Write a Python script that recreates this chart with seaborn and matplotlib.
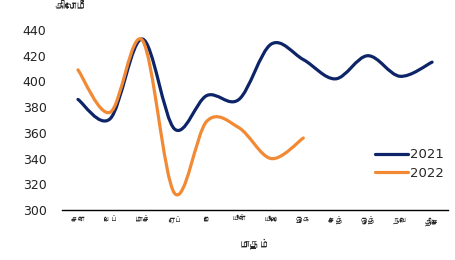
import matplotlib
matplotlib.use("Agg")
import numpy as np
import pandas as pd
import seaborn as sns
import matplotlib.pyplot as plt
from matplotlib import font_manager as fm
from matplotlib.path import Path
from matplotlib.patches import PathPatch
from matplotlib.lines import Line2D
from matplotlib.ft2font import FT2Font

months = ["சன", "பெப்", "மாச்", "ஏப்", "மே", "யூன்", "யூலை", "ஓக", "செத்", "ஒத்", "நவெ", "திசெ"]
values_2021 = [386, 371, 433, 363, 389, 386, 429, 417, 402, 420, 404, 415]
values_2022 = [409, 376, 432, 313, 369, 364, 340, 356]
yticks = [300, 320, 340, 360, 380, 400, 420, 440]
y_title = "கிலோமீ"
x_title = "மாதம்"

def find_tamil():
    found = []
    for f in fm.fontManager.ttflist:
        try:
            font = FT2Font(f.fname)
            if 0x0B95 in font.get_charmap():
                found.append(f.name)
        except Exception:
            pass
    return found

tamil = find_tamil()

sns.set_theme(style="white")
fams = tamil[:1] + ["DejaVu Sans"]
plt.rcParams["font.family"] = fams

df = pd.concat([
    pd.DataFrame({"month": np.arange(len(values_2021)), "value": values_2021, "year": "2021"}),
    pd.DataFrame({"month": np.arange(len(values_2022)), "value": values_2022, "year": "2022"}),
])
palette = {"2021": "#0D2568", "2022": "#F28A35"}

fig = plt.figure(figsize=(4.55, 2.6), dpi=100)
ax = fig.add_axes([0.136, 0.1923, 0.849, 0.6923])
sns.lineplot(data=df, x="month", y="value", hue="year", palette=palette, linewidth=2.3, ax=ax, legend=False)

def smooth_path(x, y):
    pts = np.column_stack([x, y]).astype(float)
    n = len(pts)
    verts = [pts[0]]
    codes = [Path.MOVETO]
    for i in range(n - 1):
        p0 = pts[i - 1] if i > 0 else pts[i]
        p1 = pts[i]
        p2 = pts[i + 1]
        p3 = pts[i + 2] if i + 2 < n else pts[i + 1]
        c1 = p1 + (p2 - p0) / 6.0
        c2 = p2 - (p3 - p1) / 6.0
        verts += [c1, c2, p2]
        codes += [Path.CURVE4] * 3
    return Path(verts, codes)

for line in list(ax.lines):
    xd, yd = line.get_xdata(), line.get_ydata()
    patch = PathPatch(smooth_path(xd, yd), facecolor="none", edgecolor=line.get_color(),
                      linewidth=line.get_linewidth(), capstyle="round", joinstyle="round")
    ax.add_patch(patch)
    line.set_visible(False)

ax.set_xlim(-0.5, 11.5)
ax.set_ylim(300, 440)
ax.set_xticks(range(len(months)))
ax.set_xticklabels(months, fontsize=5.5)
ax.set_yticks(yticks)
ax.set_yticklabels([str(v) for v in yticks], fontsize=9, color="#222222", family="DejaVu Sans")
ax.tick_params(axis="y", length=0, pad=11)
ax.tick_params(axis="x", length=0, pad=5)
ax.set_xlabel(x_title, fontsize=7.5, fontweight="bold", labelpad=9)
ax.set_ylabel("")
for s in ["top", "right", "left"]:
    ax.spines[s].set_visible(False)
ax.spines["bottom"].set_color("black")
ax.spines["bottom"].set_linewidth(1.0)

handles = [Line2D([], [], color=palette["2021"], lw=2.3), Line2D([], [], color=palette["2022"], lw=2.3)]
ax.legend(handles, ["2021", "2022"], frameon=False, prop={"family": "DejaVu Sans", "size": 9.5},
          handlelength=2.5, handletextpad=0.15, labelspacing=0.45, borderpad=0, borderaxespad=0,
          loc="center left", bbox_to_anchor=(0.81, 0.255))

fig.text(0.155, 0.975, y_title, fontsize=8, fontweight="bold", ha="center", va="center")

fig.savefig("out.png", dpi=100)
